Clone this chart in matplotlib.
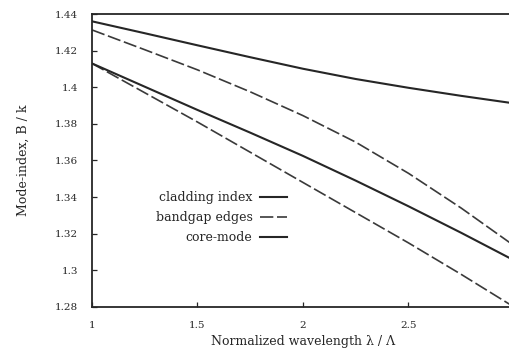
import matplotlib
matplotlib.use("Agg")
import matplotlib.pyplot as plt

wavelength = [1.0, 1.25, 1.5, 1.75, 2.0, 2.25, 2.5, 2.75, 3.0]
cladding_index = [1.436, 1.4295, 1.4229, 1.4164, 1.4101, 1.4045, 1.3997, 1.3953, 1.3912]
bandgap_upper = [1.4313, 1.4205, 1.4095, 1.3975, 1.3845, 1.3700, 1.3530, 1.3340, 1.3135]
bandgap_lower = [1.413, 1.397, 1.381, 1.3645, 1.348, 1.3315, 1.315, 1.2978, 1.280]
core_mode = [1.413, 1.4003, 1.3876, 1.3752, 1.3625, 1.3490, 1.3350, 1.3205, 1.3055]

y_ticks = [1.28, 1.30, 1.32, 1.34, 1.36, 1.38, 1.40, 1.42, 1.44]
y_labels = ["1.28", "1.3", "1.32", "1.34", "1.36", "1.38", "1.4", "1.42", "1.44"]
x_ticks = [1, 1.5, 2, 2.5]
x_labels = ["1", "1.5", "2", "2.5"]

plt.rcParams['font.family'] = ['DejaVu Serif']

fig = plt.figure(figsize=(5.10, 3.51), dpi=100)
W, H = 510, 351
left, right, top, bottom = 92, 514, 14, 307
ax = fig.add_axes([left / W, 1 - bottom / H, (right - left) / W, (bottom - top) / H])

col = "#262626"
l1, = ax.plot(wavelength, cladding_index, color=col, lw=1.5, label="cladding index")
l2, = ax.plot(wavelength, bandgap_upper, color="#3a3a3a", lw=1.2, dashes=(8, 2.2), label="bandgap edges")
ax.plot(wavelength, bandgap_lower, color="#3a3a3a", lw=1.2, dashes=(8, 2.2))
l3, = ax.plot(wavelength, core_mode, color=col, lw=1.5, label="core-mode")

ax.set_xlim(1, 3)
ax.set_ylim(1.28, 1.44)
ax.set_xticks(x_ticks)
ax.set_xticklabels(x_labels)
ax.set_yticks(y_ticks)
ax.set_yticklabels(y_labels)
ax.tick_params(direction="in", length=3.5, width=0.9, labelsize=7.5, colors=col)
ax.tick_params(axis="x", pad=10)
ax.tick_params(axis="y", pad=10)
for s in ax.spines.values():
    s.set_color(col)
    s.set_linewidth(1.3)

ax.set_xlabel("Normalized wavelength λ / Λ", fontsize=9, color=col, labelpad=4)
ax.set_ylabel("Mode-index, B / k", fontsize=9, color=col, labelpad=18)

leg = ax.legend(handles=[l1, l2, l3], labels=["cladding index", "bandgap edges", "core-mode"],
                markerfirst=False, frameon=False, fontsize=9, handlelength=2.15,
                handletextpad=0.6, labelspacing=0.56, borderpad=0, borderaxespad=0,
                loc="upper right", bbox_to_anchor=(287 / W, 1 - 191 / H),
                bbox_transform=fig.transFigure)
for t in leg.get_texts():
    t.set_color(col)

fig.savefig("out.png", dpi=100)
